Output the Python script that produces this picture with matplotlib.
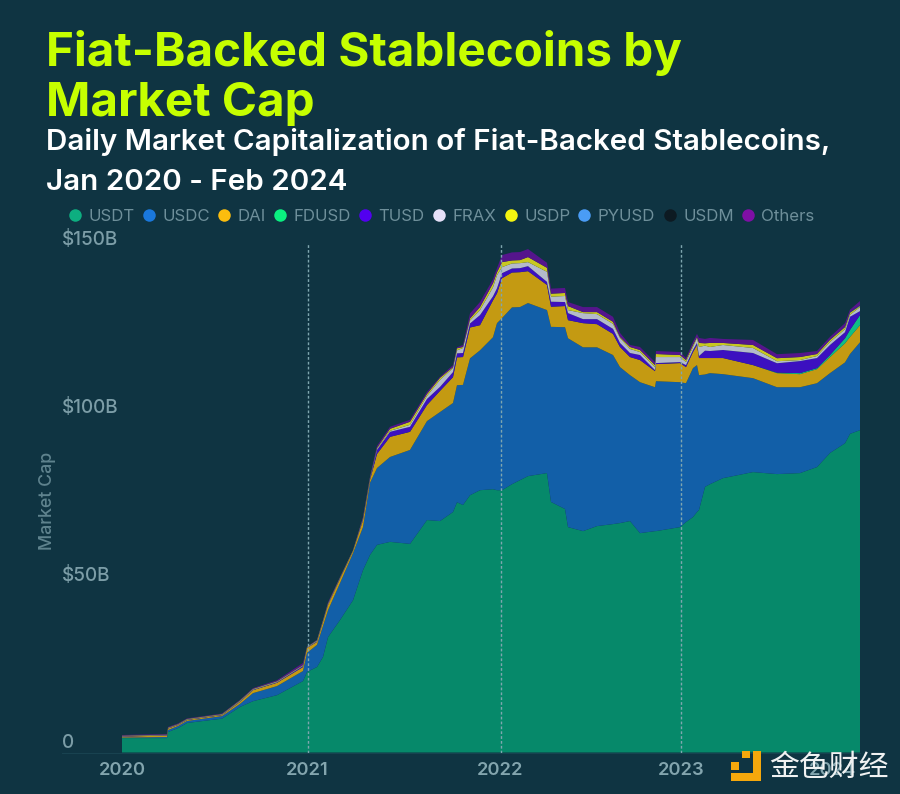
import matplotlib
matplotlib.use("Agg")
import matplotlib.pyplot as plt
from matplotlib.lines import Line2D
from matplotlib.patches import Rectangle

# x is a sample index along the chart's date axis (one unit is about two days)
period = [0,45,46,56,65,100,118,131,155,181,185,195,201,206,218,231,241,248,255,268,288,305,318,331,335,341,348,358,371,375,380,
          390,398,406,425,429,443,446,461,475,491,498,508,518,533,534,558,564,571,575,577,583,588,601,631,655,678,695,708,723,728,738]
USDT = [4.3,4.3,6.1,7.3,8.8,10.1,13.6,15.3,17.1,21.3,24,25.5,28.5,34.4,39.5,45.4,54.4,58.9,61.9,62.8,62.2,69.3,69,71.7,74.6,73.8,76.7,78.2,78.5,78.2,78.2,
        80,81.2,82.4,83.3,74.7,72.6,67.2,66,67.5,68.1,68.4,69,65.4,66,66,67.2,68.7,70.2,71.7,72.3,79.2,80,81.8,83.6,83,83.3,85.1,89.3,92.2,95,96.1]
USDC = [.15,.3,.6,.6,.6,.75,.9,2.4,2.7,3,5.7,6.6,9.2,8,11,14,12.8,21.5,22.9,25.3,28,29.5,32.5,32.5,34.9,35.8,40.8,41.7,45.3,49.8,51.3,
        52.7,51.6,51.6,48.6,52.2,54.2,56.3,54.8,53.3,50.4,46.5,43.5,45,42.9,44.7,43.2,41.4,44.4,43.8,40.2,33.5,33.1,31,28,25.9,25.6,25,23.8,24.1,23.8,26.2]
DAI = [.3,.45,.45,.3,.3,.3,.6,.9,1,1.2,1.5,.9,1.2,1.6,1.3,.6,2.1,.9,4.2,6,5.4,4.8,6.3,7.7,8.3,8.3,9.2,7.5,11,8.9,11.9,
       10.4,10.4,9.5,7.5,6,6.3,5.4,7.2,6.9,6.3,6,5.4,6.6,4.8,5.1,5.7,4.8,4.8,6,5.1,4.9,4.5,4.8,3.9,4.2,3.9,4.2,4.8,5.7,5.1,5.1]
FDUSD = [0]*55 + [.15,.3,.3,.6,1.5,2.1,3]
TUSD = [.1,.1,.1,.1,.1,.1,.12,.12,.15,.3,.1,.15,.15,.15,.15,.06,.3,.3,1.2,1.5,1.5,1.8,1.2,1.5,1.2,1.2,1.2,3,1.2,1.5,1.5,
        1.2,1.2,1.5,.9,1.5,1.2,2.1,1.2,1.5,1.5,1.2,1.2,1.5,.3,.3,.3,.6,.6,.6,.6,2.2,2.1,2.4,3.6,2.8,3.6,3,3,1.8,3.9,1.2]
FRAX = [.06,.06,.06,.06,.06,.06,.12,.12,.15,.15,.1,.15,.15,.15,.05,.09,.15,.15,.3,.3,.6,.9,2.1,1.2,.9,1.5,.9,1.5,2.7,3.9,1.8,
        1.5,1.5,1.2,3,1.5,1.8,.9,1.8,1.5,1.5,1.5,1.2,.9,.9,1.8,1.5,.9,.9,1.5,2.7,1.5,1.2,1.5,1.5,.6,.3,.6,.9,.9,.6,1.2]
USDP = [.12,.12,.12,.12,.15,.15,.18,.15,.15,.15,.06,.15,.15,.15,.15,.09,.15,.15,.3,.6,.9,.6,.6,.3,.6,.3,.6,.9,1.2,.9,1.5,
        .9,.9,1.5,1.2,.9,.9,1.2,.3,.6,.6,.3,.6,.6,.6,.9,.6,.6,.6,.3,1.2,.7,1.2,.6,.9,.9,.9,.6,.6,.6,.6,.3]
PYUSD = [0]*58 + [.05,.1,.1,.2]
USDM = [0]*60 + [.02,.05]
Others = [.18,.18,.18,.18,.15,.15,.18,.2,.3,.6,.06,.15,.15,.3,.15,.06,.3,.3,.6,.6,.6,.6,.3,.6,.3,.6,1.5,1.5,1.2,1.2,2.1,
          2.4,2.4,2.4,1.5,1.5,1.5,1.2,1.5,1.5,1.5,1.2,.6,.9,.9,.9,.9,.6,.9,.9,1.5,1.3,1.5,1.2,1.5,1.2,1.2,.9,.85,1.1,.8,1.25]

names = ["USDT","USDC","DAI","FDUSD","TUSD","FRAX","USDP","PYUSD","USDM","Others"]
legend_colors = ["#0DAE80","#1A78DC","#FBBD0E","#0AF080","#5200F0","#E5E0F8","#F5F510","#4A9CF5","#0D1A22","#7F0FA5"]
fill_colors = ["#06896A","#125FA8","#C49A12","#0FBE85","#3C10C0","#B4BACB","#C8C820","#3A80C8","#0D1A22","#55158C"]
year_pos = [0,185.5,378.5,559,711]
year_labels = ["2020","2021","2022","2023","2024"]
rule_pos = [185.5,378.5,559]
y_ticks = [0,50,100,150]
y_labels = ["0","$50B","$100B","$150B"]

BG = "#0F3442"
W, H = 900, 794
plt.rcParams["font.family"] = ["Inter", "DejaVu Sans"]
fig = plt.figure(figsize=(W/100, H/100), dpi=100, facecolor=BG)
def fx(p): return p/W
def fy(p): return 1-p/H

ax = fig.add_axes([fx(62), fy(752.5), fx(860-62), (752.5-243)/H], facecolor=BG)
ax.stackplot(period, USDT, USDC, DAI, FDUSD, TUSD, FRAX, USDP, PYUSD, USDM, Others,
             colors=fill_colors, linewidth=0)
ax.set_xlim(-60, 738)
ax.set_ylim(0, 151.9)
for p in rule_pos:
    ax.axvline(p, color="#7FA6AF", lw=1, ls=(0,(2,1.5)), zorder=5)
for s in ["top","right","left"]:
    ax.spines[s].set_visible(False)
ax.spines["bottom"].set_color("#184250")
ax.set_yticks([])
ax.set_xticks(year_pos, year_labels)
ax.tick_params(axis="x", length=0, pad=6.5, labelsize=13.2, labelcolor="#83A5AE")
for t in ax.get_xticklabels():
    t.set_fontweight("semibold")
for v, lab in zip(y_ticks, y_labels):
    ax.annotate(lab, (0, v), xycoords=("axes fraction","data"), xytext=(0, 0.2),
                textcoords="offset points", ha="left", va="bottom",
                fontsize=13.6, color="#7C9DA7", fontweight="medium")

fig.text(fx(48), fy(501), "Market Cap", rotation=90, ha="center", va="center",
         fontsize=12.8, color="#5F838E", fontweight="medium")

for txt, base in [("Fiat-Backed Stablecoins by", 66), ("Market Cap", 116)]:
    fig.text(fx(46), fy(base), txt, ha="left", va="baseline", fontsize=34.25,
             fontweight="bold", color="#C6FF00")
for txt, base in [("Daily Market Capitalization of Fiat-Backed Stablecoins,", 150), ("Jan 2020 - Feb 2024", 190)]:
    fig.text(fx(46), fy(base), txt, ha="left", va="baseline", fontsize=21.3,
             fontweight="semibold", color="#FFFFFF")

handles = [Line2D([], [], ls="", marker="o", ms=9, mfc=c, mec="none") for c in legend_colors]
leg = fig.legend(handles, names, ncols=10, loc="center left", bbox_to_anchor=(fx(69), fy(216.5)),
                 frameon=False, fontsize=12.1, labelcolor="#6E8F9A", handlelength=0.7,
                 handletextpad=0.45, columnspacing=0.5, borderpad=0, borderaxespad=0)

# source watermark
logo = [(753,751,8,30),(731,773,30,8),(742,751,8,7),(731,762,8,8)]
for x0, y0, w, h in logo:
    fig.add_artist(Rectangle((fx(x0), fy(y0+h)), w/W, h/H, transform=fig.transFigure,
                             color="#F5A80C", lw=0))
fig.text(fx(829), fy(767), "金色财经", ha="center", va="center", fontsize=21.5,
         color="#F0F2F2", family=["Noto Sans CJK SC","DejaVu Sans"])

fig.savefig("out.png", dpi=100, facecolor=BG)
